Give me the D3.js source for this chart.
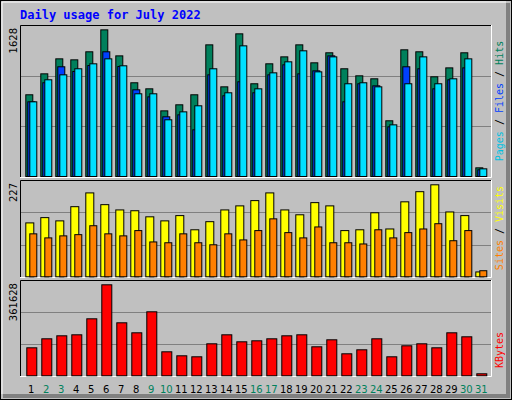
<!DOCTYPE html>
<html><head><meta charset="utf-8">
<script src="https://cdn.jsdelivr.net/npm/d3@7"></script>
<style>body{margin:0;background:#fff}svg{display:block}</style>
</head><body>
<script>
const days = d3.range(1, 32);
const weekend = [2,3,9,10,16,17,23,24,30,31];
const hits  = [905,1137,1303,1292,1381,1624,1336,1038,971,727,794,905,1458,993,1580,1027,1248,1325,1458,1259,1370,1193,1115,1082,617,1403,1381,1104,1203,1370,96];
const files = [827,1071,1126,1193,1248,1303,1226,916,916,628,716,783,1193,927,1447,971,1148,1270,1392,1159,1325,1027,1038,993,572,1027,1325,1027,1082,1303,85];
const pages = [827,1038,1215,1163,1229,1381,1218,960,882,661,683,517,1126,894,1049,927,1126,1237,1137,1170,1336,827,1027,1004,550,1215,1193,971,1071,1203,74];
const visits= [133,146,138,173,207,178,165,163,148,138,151,116,136,165,175,188,207,165,153,183,175,114,116,158,118,185,210,227,160,151,12];
const sites = [106,96,101,104,126,106,101,114,86,84,106,84,79,106,91,114,143,109,96,123,84,84,81,116,96,109,118,131,89,114,15];
const kbytes= [111266,147031,158952,162926,226507,361628,210611,170873,254323,95371,79476,75502,127162,162926,135109,139083,147031,158952,162926,115240,143057,87424,103319,147031,75502,119214,127162,111266,170873,154978,7948];
const maxHits = 1628, maxVisits = 227, maxKB = 361628;

const W=512,H=400;
const svg=d3.select("body").append("svg").attr("width",W).attr("height",H);
svg.append("rect").attr("width",W).attr("height",H).attr("fill","#c0c0c0");
// 3D frame
svg.append("rect").attr("x",0.5).attr("y",0.5).attr("width",W-1).attr("height",H-1).attr("fill","none").attr("stroke","#000");
svg.append("path").attr("d",`M${W-4},3V${H-4}H3`).attr("fill","none").attr("stroke","#808080").attr("stroke-width",4);
svg.append("path").attr("d",`M2,${H-6}V2H${W-6}`).attr("fill","none").attr("stroke","#fff").attr("stroke-width",1);

svg.append("text").attr("x",20).attr("y",19).text("Daily usage for July 2022")
 .attr("font-family","DejaVu Sans Mono").attr("font-weight","bold").attr("font-size",12).attr("fill","#0000ff");

const x = d3.scaleLinear().domain([1,32]).range([25.3, 25.3+31*15]);
const pL=20,pR=491;
const panels=[{t:25,b:177,base:176,top:29,max:maxHits,lab:"1628"},
              {t:180,b:277,base:276.3,top:184.3,max:maxVisits,lab:"227"},
              {t:280,b:376,base:375.3,top:284.3,max:maxKB,lab:"361628"}];
panels.forEach(p=>{
  p.y=d3.scaleLinear().domain([0,p.max]).range([p.base,p.top]);
  svg.append("rect").attr("x",pL).attr("y",p.t).attr("width",pR-pL).attr("height",p.b-p.t).attr("fill","#c0c0c0");
  const h=p.b-p.t;
  [1,2].forEach(k=>{const gy=Math.round(p.t+h*k/3)+0.5;
    svg.append("line").attr("x1",pL).attr("x2",pR).attr("y1",gy).attr("y2",gy).attr("stroke","#808080");});
  svg.append("path").attr("d",`M${pL+0.5},${p.b}V${p.t+0.5}H${pR}`).attr("fill","none").attr("stroke","#000");
  svg.append("path").attr("d",`M${pL},${p.b+0.5}H${pR+0.5}V${p.t}`).attr("fill","none").attr("stroke","#fff");
  svg.append("text").attr("transform",`translate(${pL-3},${p.t+3}) rotate(-90)`).attr("text-anchor","end")
   .attr("font-family","DejaVu Sans").attr("font-size",10).text(p.lab);
});
function bars(arr,p,dx,w,col){
  svg.append("g").selectAll("rect").data(arr).join("rect")
   .attr("x",(d,i)=>x(days[i])+dx+0.5).attr("y",d=>p.y(d)+0.5)
   .attr("width",w).attr("height",d=>p.base-p.y(d))
   .attr("fill",col).attr("stroke","#000").attr("stroke-width",1);
}
bars(hits,panels[0],0,7,"#00805c");
bars(pages,panels[0],2,7,"#0040ff");
bars(files,panels[0],4,7,"#00e0ff");
bars(visits,panels[1],0,8,"#ffff00");
bars(sites,panels[1],4,7,"#ff8000");
bars(kbytes,panels[2],1,10,"#ff0000");

svg.append("g").selectAll("text").data(days).join("text")
 .attr("x",d=>x(d)+6).attr("y",393).attr("text-anchor","middle")
 .attr("font-family","DejaVu Sans").attr("font-size",10)
 .attr("fill",d=>weekend.includes(d)?"#00805c":"#000").text(d=>d);

function rlab(parts,cy){
  const t=svg.append("text").attr("transform",`translate(503,${cy}) rotate(-90)`).attr("text-anchor","middle")
   .attr("font-family","DejaVu Sans Mono").attr("font-size",10);
  parts.forEach(([s,c])=>t.append("tspan").attr("fill",c).text(s));
}
rlab([["Pages","#00c0e0"],[" / ","#000"],["Files","#0040ff"],[" / ","#000"],["Hits","#00805c"]],101);
rlab([["Sites","#ff8000"],[" / ","#000"],["Visits","#ffff00"]],228);
rlab([["KBytes","#ff0000"]],350);
</script></body></html>
